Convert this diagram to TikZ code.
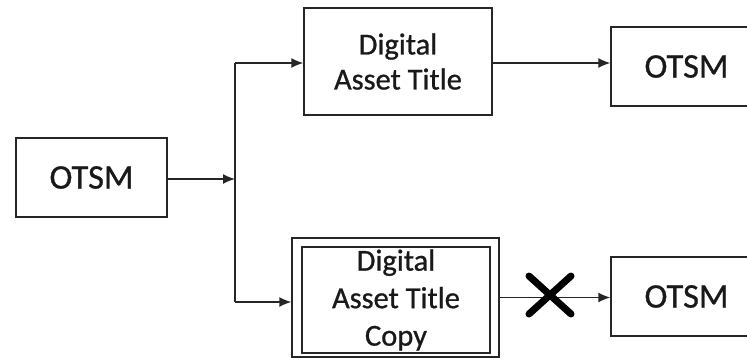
\documentclass[tikz,border=0pt]{standalone}
\usepackage{fontspec}
\setmainfont{Carlito}[FakeBold=0.8,AutoFakeBold=false]
\usetikzlibrary{arrows.meta,calc}
\tikzset{
  box/.style={draw=black!85, line width=1.4pt, fill=white, inner sep=0pt, align=center, text=black!90},
  otsmbox/.style={box, minimum width=151pt, minimum height=79pt, font=\fontsize{34.5}{36}\selectfont},
  titlebox/.style={box, font=\fontsize{30.5}{35}\selectfont},
  flow/.style={draw=black!85, line width=1.4pt},
  arr/.style={flow, -{Latex[length=12pt,width=10pt]}},
  cross/.style={line width=7pt, line cap=round, black},
}
\begin{document}
\begin{tikzpicture}[x=1pt,y=-1pt]
\useasboundingbox (0,0) rectangle (747,360);
\clip (0,0) rectangle (747,360);

% source
\node[otsmbox] (src) at (91.5,177.5) {OTSM};

% upper branch
\node[titlebox, minimum width=188pt, minimum height=107pt] (dat) at (398,61.5) {Digital\\Asset Title};
\node[otsmbox] (otsmA) at (686.5,66.5) {OTSM};

% lower branch: the copy, drawn with a double border
\node[box, minimum width=207pt, minimum height=119pt] (copyout) at (395.5,297.5) {};
\node[titlebox, minimum width=188pt, minimum height=106pt, font=\fontsize{30.5}{37.5}\selectfont] (copy) at (396,300) {Digital\\Asset Title\\Copy};
\node[otsmbox] (otsmB) at (686.5,296.5) {OTSM};

% splitting bus
\coordinate (split) at (235,179);
\coordinate (busTop) at (235,63);
\coordinate (busBot) at (235,302);
\draw[flow] (busTop) -- (busBot);
\draw[arr] (src.east |- split) -- (split);
\draw[arr] (busTop) -- (dat.west |- busTop);
\draw[arr] (busBot) -- (copyout.west |- busBot);

% outputs
\coordinate (a0) at (dat.east |- 0,63);
\draw[arr] (a0) -- (otsmA.west |- a0);
\draw[arr] (copyout.east) -- (otsmB.west |- copyout.east);

% blocked transfer
\coordinate (xm) at (550,295);
\draw[cross] ($(xm)+(-21,-19)$) -- ($(xm)+(21,19)$);
\draw[cross] ($(xm)+(-21,19)$) -- ($(xm)+(21,-19)$);
\end{tikzpicture}
\end{document}
